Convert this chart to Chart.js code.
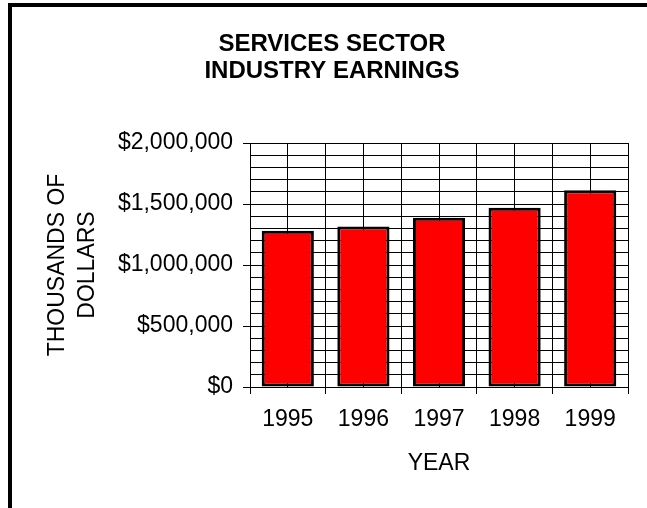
<!DOCTYPE html>
<html>
<head>
<meta charset="utf-8">
<title>Services Sector Industry Earnings</title>
<script src="https://cdn.jsdelivr.net/npm/chart.js@4.4.1/dist/chart.umd.min.js"></script>
<style>
  html, body { margin: 0; padding: 0; background: #fff; }
  #wrap { position: relative; width: 647px; height: 508px; overflow: hidden; background: #fff; }
  #frame {
    position: absolute; left: 8px; top: 3px; width: 700px; height: 600px;
    border-top: 4px solid #000; border-left: 4px solid #000; pointer-events: none;
  }
  canvas { position: absolute; left: 0; top: 0; }
</style>
</head>
<body>
<div id="wrap">
  <canvas id="earningsChart" width="647" height="508"></canvas>
  <div id="frame"></div>
</div>
<script>
// data
const years = ["1995", "1996", "1997", "1998", "1999"];
const earnings = [1280000, 1315000, 1387000, 1470000, 1612000];
const titleLines = ["SERVICES SECTOR", "INDUSTRY EARNINGS"];
const yTitleLines = ["THOUSANDS OF", "DOLLARS"];
const xTitle = "YEAR";
const yMax = 2000000;
const yStep = 100000;
const yLabelStep = 500000;

const FONT = "'Liberation Sans', Arial, Helvetica, sans-serif";

function dollars(value) {
  return "$" + Number(value).toLocaleString("en-US");
}

function isMajor(value) {
  return value % yLabelStep === 0;
}

new Chart(document.getElementById("earningsChart"), {
  type: "bar",
  data: {
    labels: years,
    datasets: [{
      data: earnings,
      xAxisID: "x",
      backgroundColor: "#ff0000",
      borderColor: "#000",
      borderWidth: 3,
      borderSkipped: false,
      barPercentage: 1,
      categoryPercentage: 0.69
    }]
  },
  options: {
    responsive: false,
    animation: false,
    layout: { padding: { left: 36, right: 19, top: 0, bottom: 0 } },
    plugins: {
      legend: { display: false },
      tooltip: { enabled: false },
      title: {
        display: true,
        text: titleLines,
        color: "#000",
        font: { family: FONT, size: 24, weight: "bold", lineHeight: 27 / 24 },
        padding: { top: 31, bottom: 58 }
      }
    },
    scales: {
      x: {
        type: "category",
        position: "bottom",
        offset: true,
        grid: { offset: true, color: "#000", tickLength: 7, tickColor: "#000" },
        border: { color: "#000" },
        ticks: {
          color: "#000",
          font: { family: FONT, size: 23 },
          padding: 12,
          autoSkip: false,
          maxRotation: 0
        },
        title: {
          display: true,
          text: xTitle,
          color: "#000",
          font: { family: FONT, size: 23 },
          padding: { top: 0, bottom: 31 }
        },
        afterFit: (scale) => { scale.height = 121; }
      },
      // second category axis only to draw the grid lines through the bar centres
      xCenter: {
        type: "category",
        labels: years,
        position: "bottom",
        offset: true,
        grid: { offset: false, color: "#000", drawTicks: false },
        border: { display: false },
        ticks: { display: false },
        afterFit: (scale) => { scale.height = 0; }
      },
      y: {
        min: 0,
        max: yMax,
        grid: {
          color: "#000",
          tickLength: 7,
          tickColor: (ctx) => (ctx.tick && isMajor(ctx.tick.value) ? "#000" : "rgba(0,0,0,0)")
        },
        border: { color: "#000" },
        ticks: {
          stepSize: yStep,
          autoSkip: false,
          color: "#000",
          padding: 10,
          font: { family: FONT, size: 23 },
          callback: (value) => (isMajor(value) ? dollars(value) : "")
        },
        title: {
          display: true,
          text: yTitleLines,
          color: "#000",
          font: { family: FONT, size: 23, lineHeight: 30 / 23 },
          padding: { top: 6.5, bottom: 0 }
        },
        afterFit: (scale) => { scale.width = 214; }
      }
    }
  }
});
</script>
</body>
</html>
